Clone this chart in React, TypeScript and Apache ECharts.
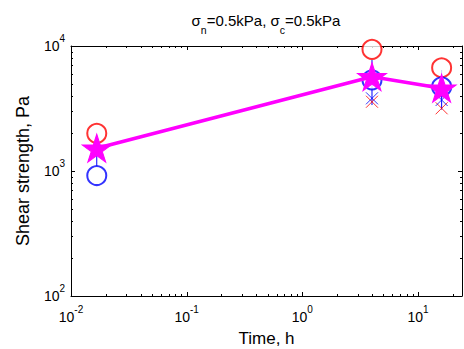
import React, { useEffect, useRef } from "react";
import * as echarts from "echarts";

// Time points, hours
const times = [0.0167, 4, 16];
// Shear strength values, Pa
const redCircle = [2000, 9400, 6700];
const blueCircle = [920, 5350, 4720];
const redCross = [null, 3580, 3175];
const blueCross = [null, 3815, 3700];
const meanStar = [1520, 5680, 4590];
const errLow = [1100, 3370, 3100];
const errHigh = [1700, 7730, 6430];

const xMajor = [0.01, 0.1, 1, 10];
const xMinor = [0.02, 0.03, 0.04, 0.05, 0.06, 0.07, 0.08, 0.09, 0.2, 0.3, 0.4, 0.5, 0.6, 0.7, 0.8, 0.9, 2, 3, 4, 5, 6, 7, 8, 9, 20];
const yMajor = [100, 1000, 10000];
const yMinor = [200, 300, 400, 500, 600, 700, 800, 900, 2000, 3000, 4000, 5000, 6000, 7000, 8000, 9000];

const titleText = "{a|σ}{sub|n}{a|=0.5kPa, σ}{sub|c}{a|=0.5kPa}";
const xName = "Time, h";
const yName = "Shear strength, Pa";

const FONT = "Liberation Sans, Arial, Helvetica, sans-serif";
const RED = "#ff0000";
const BLUE = "#0000ff";
const MAG = "#ff00ff";

const STAR =
  "path://M50,0 L61.23,34.55 L97.55,34.55 L68.17,55.9 L79.39,90.45 L50,69.1 L20.61,90.45 L31.83,55.9 L2.45,34.55 L38.77,34.55 Z";
const CROSS = "path://M0,0 L10,10 M10,0 L0,10";

const supRich = {
  b: { fontSize: 14, lineHeight: 26, verticalAlign: "middle", color: "#000", fontFamily: FONT },
  s: { fontSize: 10, lineHeight: 10, padding: [0, 0, 16, 0], verticalAlign: "middle", color: "#000", fontFamily: FONT },
};
const fmt = (v: number) => `{b|10}{s|${Math.round(Math.log10(v))}}`;

function pairs(ys: (number | null)[]) {
  const out: [number, number][] = [];
  ys.forEach((y, i) => {
    if (y != null) out.push([times[i], y]);
  });
  return out;
}

export default function App() {
  const ref = useRef<HTMLDivElement>(null);
  useEffect(() => {
    if (!ref.current) return;
    const chart = echarts.init(ref.current, null, { renderer: "svg" });
    const baseX = { type: "log", logBase: 10, min: 0.01, max: 24, splitLine: { show: false }, axisTick: { show: false } };
    const baseY = { type: "log", logBase: 10, min: 100, max: 10000, splitLine: { show: false }, axisTick: { show: false } };
    const line = { show: true, lineStyle: { color: "#000", width: 1 } };
    const errSeries = times.map((t, i) => ({
      type: "line",
      data: [
        [t, errLow[i]],
        [t, errHigh[i]],
      ],
      showSymbol: false,
      symbol: "none",
      lineStyle: { color: BLUE, width: 1 },
      z: 2,
    }));
    const xTickData = [...xMajor.map((v) => [v, 1000, 4]), ...xMinor.map((v) => [v, 1000, 2])];
    const yTickData = [...yMajor.map((v) => [1, v, 4]), ...yMinor.map((v) => [1, v, 2])];
    const tickStyle = { stroke: "#000", lineWidth: 1 };
    chart.setOption({
      animation: false,
      grid: { left: 71, right: 2, top: 46, bottom: 53, containLabel: false, outerBoundsMode: "none" },
      xAxis: [
        {
          ...baseX,
          position: "bottom",
          axisLine: line,
          axisLabel: { customValues: xMajor, formatter: fmt, rich: supRich, margin: 8 },
          name: xName,
          nameLocation: "middle",
          nameGap: 33,
          nameMoveOverlap: false,
          nameTextStyle: { fontSize: 17, lineHeight: 18, fontFamily: FONT, color: "#000" },
        },
        {
          ...baseX,
          position: "top",
          axisLine: line,
          axisLabel: { show: false },
        },
      ],
      yAxis: [
        {
          ...baseY,
          position: "left",
          axisLine: line,
          axisLabel: { customValues: yMajor, formatter: fmt, rich: supRich, margin: 6 },
          name: yName,
          nameLocation: "middle",
          nameGap: 39,
          nameMoveOverlap: false,
          nameTextStyle: { fontSize: 18, fontFamily: FONT, color: "#000" },
        },
        {
          ...baseY,
          position: "right",
          axisLine: line,
          axisLabel: { show: false },
        },
      ],
      graphic: [
        {
          type: "text",
          x: 266,
          y: 24,
          style: {
            text: titleText,
            align: "center",
            verticalAlign: "middle",
            rich: {
              a: { fontSize: 15, lineHeight: 22, verticalAlign: "top", fontFamily: FONT, fill: "#000", color: "#000" },
              sub: { fontSize: 10.5, lineHeight: 10, verticalAlign: "bottom", fontFamily: FONT, fill: "#000", color: "#000" },
            },
          },
        },
      ],
      series: [
        {
          type: "custom",
          data: xTickData,
          silent: true,
          z: 1,
          renderItem: (params: any, api: any) => {
            const cs = params.coordSys;
            const len = api.value(2);
            const p = api.coord([api.value(0), api.value(1)]);
            const x = Math.round(p[0]) + 0.5;
            const yb = cs.y + cs.height;
            return {
              type: "group",
              children: [
                { type: "line", shape: { x1: x, y1: yb, x2: x, y2: yb - len }, style: tickStyle },
                { type: "line", shape: { x1: x, y1: cs.y, x2: x, y2: cs.y + len }, style: tickStyle },
              ],
            };
          },
        },
        {
          type: "custom",
          data: yTickData,
          silent: true,
          z: 1,
          renderItem: (params: any, api: any) => {
            const cs = params.coordSys;
            const len = api.value(2);
            const p = api.coord([api.value(0), api.value(1)]);
            const y = Math.round(p[1]) + 0.5;
            const xr = cs.x + cs.width;
            return {
              type: "group",
              children: [
                { type: "line", shape: { x1: cs.x, y1: y, x2: cs.x + len, y2: y }, style: tickStyle },
                { type: "line", shape: { x1: xr, y1: y, x2: xr - len, y2: y }, style: tickStyle },
              ],
            };
          },
        },
        ...errSeries,
        {
          type: "scatter",
          data: pairs(redCircle),
          symbol: "emptyCircle",
          symbolSize: 19,
          itemStyle: { color: RED, borderColor: RED, borderWidth: 1 },
          z: 3,
        },
        {
          type: "scatter",
          data: pairs(blueCircle),
          symbol: "emptyCircle",
          symbolSize: 19,
          itemStyle: { color: BLUE, borderColor: BLUE, borderWidth: 1 },
          z: 3,
        },
        {
          type: "scatter",
          data: pairs(redCross),
          symbol: CROSS,
          symbolSize: 12,
          itemStyle: { color: "transparent", borderColor: RED, borderWidth: 1 },
          z: 3,
        },
        {
          type: "scatter",
          data: pairs(blueCross),
          symbol: CROSS,
          symbolSize: 12,
          itemStyle: { color: "transparent", borderColor: BLUE, borderWidth: 1 },
          z: 3,
        },
        {
          type: "line",
          data: pairs(meanStar),
          symbol: STAR,
          symbolSize: [29, 28],
          showSymbol: true,
          lineStyle: { color: MAG, width: 3.5 },
          itemStyle: { color: MAG, borderColor: MAG, borderWidth: 1 },
          z: 5,
        },
      ],
    });
    return () => chart.dispose();
  }, []);
  return (
    <div
      ref={ref}
      style={{ position: "fixed", left: 0, top: 0, width: 464, height: 349, background: "#fff" }}
    />
  );
}
